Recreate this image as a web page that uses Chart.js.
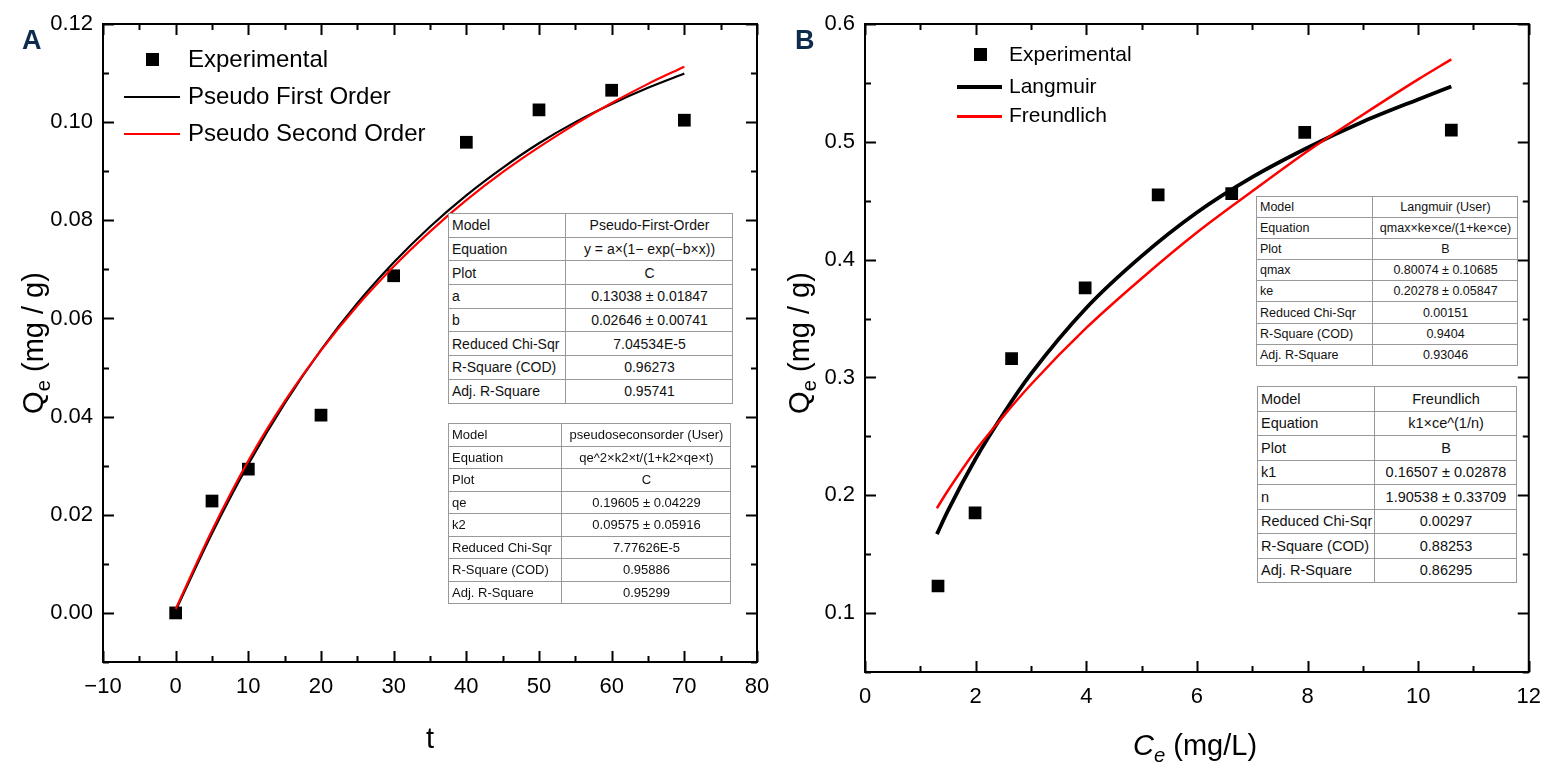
<!DOCTYPE html>
<html lang="en">
<head>
<meta charset="UTF-8">
<title>Kinetics and isotherm fits</title>
<script src="https://cdn.jsdelivr.net/npm/chart.js@4.4.1/dist/chart.umd.min.js"></script>
<style>
  body { margin: 0; background: #fff; font-family: 'Liberation Sans', Arial, sans-serif; }
  .wrap { position: relative; width: 1553px; height: 778px; overflow: hidden; }
  canvas { position: absolute; top: 0; }
  .panel { position: absolute; font-weight: bold; font-size: 27px; color: #0d2b4c; }
  .ytitle { position: absolute; font-size: 29px; transform: translate(-50%, -50%) rotate(-90deg); white-space: nowrap; }
  .xtitle { position: absolute; font-size: 29px; transform: translate(-50%, -50%); white-space: nowrap; }
  sub { font-size: 70%; }
  .legend { position: absolute; }
  .legend div { position: absolute; white-space: nowrap; }
  .swatch { position: absolute; }
  table.fit { position: absolute; border-collapse: collapse; table-layout: fixed; background: #fff; border: 1.5px solid #888; }
  table.fit td { border: 1px solid #999; padding: 0 2px 0 3px; white-space: nowrap; overflow: hidden; color: #111; }
  table.fit td:nth-child(2) { text-align: center; }
</style>
</head>
<body>
<div class="wrap">
  <canvas id="kinetic" width="790" height="778" style="left:0"></canvas>
  <canvas id="isotherm" width="773" height="778" style="left:780px"></canvas>

  <div class="panel" style="left:22px;top:25px">A</div>
  <div class="panel" style="left:795px;top:25px">B</div>

  <div class="ytitle" style="left:36px;top:343px">Q<sub>e</sub> (mg / g)</div>
  <div class="xtitle" style="left:430px;top:738px">t</div>
  <div class="ytitle" style="left:802px;top:343px">Q<sub>e</sub> (mg / g)</div>
  <div class="xtitle" style="left:1195px;top:748px"><i>C<sub>e</sub></i> (mg/L)</div>

  <div class="legend" style="font-size:24px">
    <div class="swatch" style="left:146px;top:53px;width:13px;height:13px;background:#000"></div>
    <div style="left:188px;top:45px">Experimental</div>
    <div class="swatch" style="left:124px;top:96px;width:56px;height:2px;background:#000"></div>
    <div style="left:188px;top:82px">Pseudo First Order</div>
    <div class="swatch" style="left:124px;top:133px;width:56px;height:2px;background:#f00"></div>
    <div style="left:188px;top:119px">Pseudo Second Order</div>
  </div>
  <div class="legend" style="font-size:21px">
    <div class="swatch" style="left:974px;top:48px;width:13px;height:13px;background:#000"></div>
    <div style="left:1009px;top:42px">Experimental</div>
    <div class="swatch" style="left:957px;top:85px;width:45px;height:4px;background:#000"></div>
    <div style="left:1009px;top:74px">Langmuir</div>
    <div class="swatch" style="left:957px;top:115px;width:45px;height:2.5px;background:#f00"></div>
    <div style="left:1009px;top:103px">Freundlich</div>
  </div>
</div>

<script>
// kinetic data (left)
const kineticT = [0, 5, 10, 20, 30, 40, 50, 60, 70];
const kineticQe = [0.0000, 0.0228, 0.0293, 0.0403, 0.0687, 0.0959, 0.1025, 0.1065, 0.1004];
const kineticFitT = [0, 5, 10, 15, 20, 25, 30, 35, 40, 45, 50, 55, 60, 65, 70];
const firstOrderQ = [0.0005, 0.0162, 0.0303, 0.0427, 0.0536, 0.0631, 0.0714, 0.0787, 0.0851, 0.0907, 0.0957, 0.1000, 0.1037, 0.1070, 0.1099];
const secondOrderQ = [0.0008, 0.0168, 0.0310, 0.0431, 0.0535, 0.0626, 0.0706, 0.0777, 0.0841, 0.0898, 0.0949, 0.0996, 0.1039, 0.1078, 0.1113];
const kineticXTicks = [-10, 0, 10, 20, 30, 40, 50, 60, 70, 80];
const kineticYTicks = [0, 0.02, 0.04, 0.06, 0.08, 0.10, 0.12];

// isotherm data (right)
const isoCe = [1.32, 1.99, 2.65, 3.98, 5.30, 6.63, 7.95, 10.60];
const isoQe = [0.123, 0.185, 0.316, 0.376, 0.455, 0.456, 0.508, 0.510];
const isoFitCe = [1.3, 1.5, 2, 2.5, 3, 4, 5, 6, 7, 8, 9, 10, 10.6];
const langmuirQ = [0.167, 0.187, 0.231, 0.269, 0.303, 0.359, 0.403, 0.440, 0.470, 0.495, 0.517, 0.536, 0.547];
const freundlichQ = [0.189, 0.204, 0.238, 0.267, 0.294, 0.342, 0.384, 0.423, 0.458, 0.492, 0.523, 0.553, 0.570];
const isoXTicks = [0, 2, 4, 6, 8, 10, 12];
const isoYTicks = [0.1, 0.2, 0.3, 0.4, 0.5, 0.6];

// fit report tables
const firstOrderRows = [
  ['Model', 'Pseudo-First-Order'],
  ['Equation', 'y = a×(1− exp(−b×x))'],
  ['Plot', 'C'],
  ['a', '0.13038 ± 0.01847'],
  ['b', '0.02646 ± 0.00741'],
  ['Reduced Chi-Sqr', '7.04534E-5'],
  ['R-Square (COD)', '0.96273'],
  ['Adj. R-Square', '0.95741']
];
const secondOrderRows = [
  ['Model', 'pseudoseconsorder (User)'],
  ['Equation', 'qe^2×k2×t/(1+k2×qe×t)'],
  ['Plot', 'C'],
  ['qe', '0.19605 ± 0.04229'],
  ['k2', '0.09575 ± 0.05916'],
  ['Reduced Chi-Sqr', '7.77626E-5'],
  ['R-Square (COD)', '0.95886'],
  ['Adj. R-Square', '0.95299']
];
const langmuirRows = [
  ['Model', 'Langmuir (User)'],
  ['Equation', 'qmax×ke×ce/(1+ke×ce)'],
  ['Plot', 'B'],
  ['qmax', '0.80074 ± 0.10685'],
  ['ke', '0.20278 ± 0.05847'],
  ['Reduced Chi-Sqr', '0.00151'],
  ['R-Square (COD)', '0.9404'],
  ['Adj. R-Square', '0.93046']
];
const freundlichRows = [
  ['Model', 'Freundlich'],
  ['Equation', 'k1×ce^(1/n)'],
  ['Plot', 'B'],
  ['k1', '0.16507 ± 0.02878'],
  ['n', '1.90538 ± 0.33709'],
  ['Reduced Chi-Sqr', '0.00297'],
  ['R-Square (COD)', '0.88253'],
  ['Adj. R-Square', '0.86295']
];

function makeTable(rows, left, top, width, col1, rowH, fontSize) {
  const t = document.createElement('table');
  t.className = 'fit';
  t.style.left = left + 'px';
  t.style.top = top + 'px';
  t.style.width = width + 'px';
  t.style.fontSize = fontSize + 'px';
  const cg = document.createElement('colgroup');
  cg.innerHTML = `<col style="width:${col1}px"><col>`;
  t.appendChild(cg);
  rows.forEach(r => {
    const tr = document.createElement('tr');
    tr.style.height = rowH + 'px';
    r.forEach(c => {
      const td = document.createElement('td');
      td.textContent = c;
      tr.appendChild(td);
    });
    t.appendChild(tr);
  });
  document.querySelector('.wrap').appendChild(t);
}
makeTable(firstOrderRows, 448, 213, 285, 117, 23.7, 14);
makeTable(secondOrderRows, 448, 423, 283, 113, 22.5, 13);
makeTable(langmuirRows, 1256, 196, 262, 116, 21.1, 12.5);
makeTable(freundlichRows, 1257, 386, 260, 117, 24.5, 14.5);

const toXY = (xs, ys) => xs.map((x, i) => ({ x: x, y: ys[i] }));

// inward ticks on all four sides plus the frame
const innerTicks = {
  id: 'innerTicks',
  afterDatasetsDraw(chart, args, o) {
    const { ctx, chartArea: a, scales: { x, y } } = chart;
    ctx.save();
    ctx.strokeStyle = '#000';
    ctx.lineWidth = 2;
    ctx.strokeRect(a.left, a.top, a.right - a.left, a.bottom - a.top);
    const n = Math.round((x.max - x.min) / o.xMinor);
    for (let i = 0; i <= n; i++) {
      const v = x.min + i * o.xMinor;
      const major = Math.abs(v / o.xMajor - Math.round(v / o.xMajor)) < 1e-6;
      const len = major ? 11 : 6;
      const px = Math.round(x.getPixelForValue(v)) + 0.5;
      ctx.beginPath();
      ctx.moveTo(px, a.bottom); ctx.lineTo(px, a.bottom - len);
      ctx.moveTo(px, a.top); ctx.lineTo(px, a.top + len);
      ctx.stroke();
    }
    const m = Math.round((y.max - y.min) / o.yMinor);
    for (let i = 0; i <= m; i++) {
      const v = y.min + i * o.yMinor;
      const major = Math.abs(v / o.yMajor - Math.round(v / o.yMajor)) < 1e-6;
      const len = major ? 11 : 6;
      const py = Math.round(y.getPixelForValue(v)) + 0.5;
      ctx.beginPath();
      ctx.moveTo(a.left, py); ctx.lineTo(a.left + len, py);
      ctx.moveTo(a.right, py); ctx.lineTo(a.right - len, py);
      ctx.stroke();
    }
    ctx.restore();
  }
};

const tickFont = { family: "'Liberation Sans', Arial, sans-serif", size: 22 };

function makeChart(id, datasets, xr, yr, xTicks, yTicks, fmtX, fmtY, yWidth, xHeight, padRight, minor) {
  return new Chart(document.getElementById(id), {
    type: 'scatter',
    data: { datasets: datasets },
    options: {
      responsive: false,
      animation: false,
      layout: { padding: { top: 24, right: padRight, left: 0, bottom: 0 } },
      plugins: { legend: { display: false }, tooltip: { enabled: false }, innerTicks: minor },
      scales: {
        x: {
          type: 'linear', min: xr[0], max: xr[1],
          grid: { display: false, drawTicks: false },
          border: { display: false },
          afterBuildTicks: s => { s.ticks = xTicks.map(v => ({ value: v })); },
          afterFit: s => { s.height = xHeight; },
          ticks: { color: '#000', font: tickFont, padding: 12, maxRotation: 0, callback: fmtX }
        },
        y: {
          type: 'linear', min: yr[0], max: yr[1],
          grid: { display: false, drawTicks: false },
          border: { display: false },
          afterBuildTicks: s => { s.ticks = yTicks.map(v => ({ value: v })); },
          afterFit: s => { s.width = yWidth; },
          ticks: { color: '#000', font: tickFont, padding: 10, callback: fmtY }
        }
      }
    },
    plugins: [innerTicks]
  });
}

const expStyle = { showLine: false, pointStyle: 'rect', pointRadius: 9, pointHoverRadius: 9, backgroundColor: '#000', borderColor: '#000', borderWidth: 0 };
const lineStyle = (color, w) => ({ showLine: true, pointRadius: 0, borderColor: color, backgroundColor: color, borderWidth: w, cubicInterpolationMode: 'monotone', fill: false });

makeChart('kinetic', [
  Object.assign({ label: 'Pseudo Second Order', data: toXY(kineticFitT, secondOrderQ) }, lineStyle('#ff0000', 2.2)),
  Object.assign({ label: 'Pseudo First Order', data: toXY(kineticFitT, firstOrderQ) }, lineStyle('#000000', 2.2)),
  Object.assign({ label: 'Experimental', data: toXY(kineticT, kineticQe) }, expStyle)
], [-10, 80], [-0.01, 0.12], kineticXTicks, kineticYTicks,
  v => String(v).replace('-', '\u2212'), v => v.toFixed(2),
  103, 116, 33, { xMajor: 10, xMinor: 5, yMajor: 0.02, yMinor: 0.01 });

makeChart('isotherm', [
  Object.assign({ label: 'Freundlich', data: toXY(isoFitCe, freundlichQ) }, lineStyle('#ff0000', 2.5)),
  Object.assign({ label: 'Langmuir', data: toXY(isoFitCe, langmuirQ) }, lineStyle('#000000', 3.8)),
  Object.assign({ label: 'Experimental', data: toXY(isoCe, isoQe) }, expStyle)
], [0, 12], [0.05, 0.6], isoXTicks, isoYTicks,
  v => String(v), v => v.toFixed(1),
  85, 106, 23, { xMajor: 2, xMinor: 1, yMajor: 0.1, yMinor: 0.05 });
</script>
</body>
</html>
